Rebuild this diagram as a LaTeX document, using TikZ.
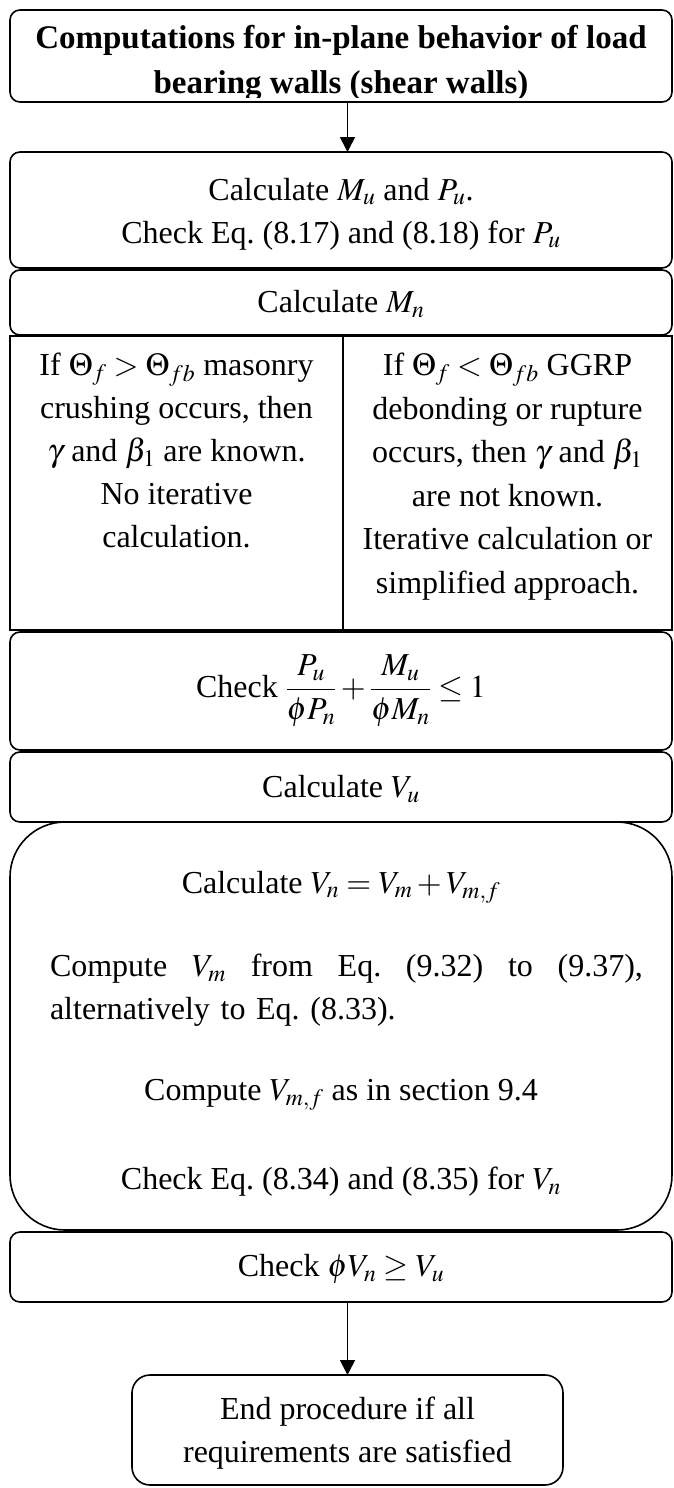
\documentclass[tikz,border=0pt]{standalone}
\usepackage{mathptmx}
\usepackage{fontspec}
\setmainfont{Liberation Serif}
\usetikzlibrary{arrows.meta}
\frenchspacing
\begin{document}
\begin{tikzpicture}[x=1pt,y=-1pt,
  box/.style={draw,line width=1.6pt,rounded corners=10pt,inner sep=0pt,outer sep=0pt},
  bigbox/.style={draw,line width=1.6pt,rounded corners=55pt,inner sep=0pt,outer sep=0pt},
  sq/.style={draw,line width=1.6pt,inner sep=0pt,outer sep=0pt},
  txt/.style={inner sep=0pt,align=center,font=\fontsize{32}{43}\selectfont\frenchspacing},
  arr/.style={line width=1.6pt,-{Triangle[length=15pt,width=15pt]}}]
\useasboundingbox (0,0) rectangle (673,1488);
% top box
\node[box,minimum width=662pt,minimum height=92pt] (t1) at (341,56) {};
\begin{scope}
\clip (10,10) rectangle (672,97);
\node[txt,font=\fontsize{33}{45}\selectfont\bfseries] (t1t) at (341,63) {Computations for in-plane behavior of load\\bearing walls (shear walls)};
\end{scope}
% box 2
\node[box,minimum width=662pt,minimum height=116pt] (b2) at (341,210) {};
\node[txt] (b2t) at (341,214) {Calculate $M_u$ and $P_u$.\\Check Eq. (8.17) and (8.18) for $P_u$};
% box 3
\node[box,minimum width=662pt,minimum height=65pt] (b3) at (341,302.5) {};
\node[txt] (b3t) at (341,304) {Calculate $M_n$};
% split
\node[sq,minimum width=333pt,minimum height=294pt] (sl) at (176.5,483) {};
\node[sq,minimum width=329pt,minimum height=294pt] (sr) at (507.5,483) {};
\node[txt,anchor=north] (slt) at (176.5,353) {If $\Theta_f>\Theta_{fb}$ masonry\\crushing occurs, then\\$\gamma$ and $\beta_1$ are known.\\No iterative\\calculation.};
\node[txt,anchor=north,font=\fontsize{32}{43.5}\selectfont] (srt) at (507.5,353) {If $\Theta_f<\Theta_{fb}$ GGRP\\debonding or rupture\\occurs, then $\gamma$ and $\beta_1$\\are not known.\\Iterative calculation or\\simplified approach.};
% check box
\node[box,minimum width=662pt,minimum height=118pt] (b4) at (341,691) {};
\node[txt] (b4t) at (341,691) {Check $\displaystyle\frac{P_u}{\phi P_n}+\frac{M_u}{\phi M_n}\le 1$};
% Vu
\node[box,minimum width=662pt,minimum height=70pt] (b5) at (341,787) {};
\node[txt] (b5t) at (341,789) {Calculate $V_u$};
% big box
\node[bigbox,minimum width=662pt,minimum height=408pt] (b6) at (341,1026) {};
\node[txt] (b6a) at (341,887) {Calculate $V_n=V_m+V_{m,f}$};
\node[txt,text width=593pt,align=left] (b6b) at (346.5,990) {\hbox to 593pt{Compute\hfill$V_m$\hfill from\hfill Eq.\hfill (9.32)\hfill to\hfill (9.37),}\\alternatively to Eq. (8.33).};
\node[txt] (b6c) at (341,1095) {Compute $V_{m,f}$ as in section 9.4};
\node[txt] (b6d) at (341,1182) {Check Eq. (8.34) and (8.35) for $V_n$};
% check phi Vn
\node[box,minimum width=662pt,minimum height=70pt] (b7) at (341,1267) {};
\node[txt] (b7t) at (341,1269) {Check $\phi V_n\ge V_u$};
% end box
\node[box,rounded corners=18pt,minimum width=431pt,minimum height=110pt] (b8) at (347.5,1430) {};
\node[txt] (b8t) at (347.5,1433) {End procedure if all\\requirements are satisfied};
% arrows
\draw[arr] (t1.south -| b8.north) -- (b2.north -| b8.north);
\draw[arr] (b7.south -| b8.north) -- (b8.north);
\end{tikzpicture}
\end{document}
